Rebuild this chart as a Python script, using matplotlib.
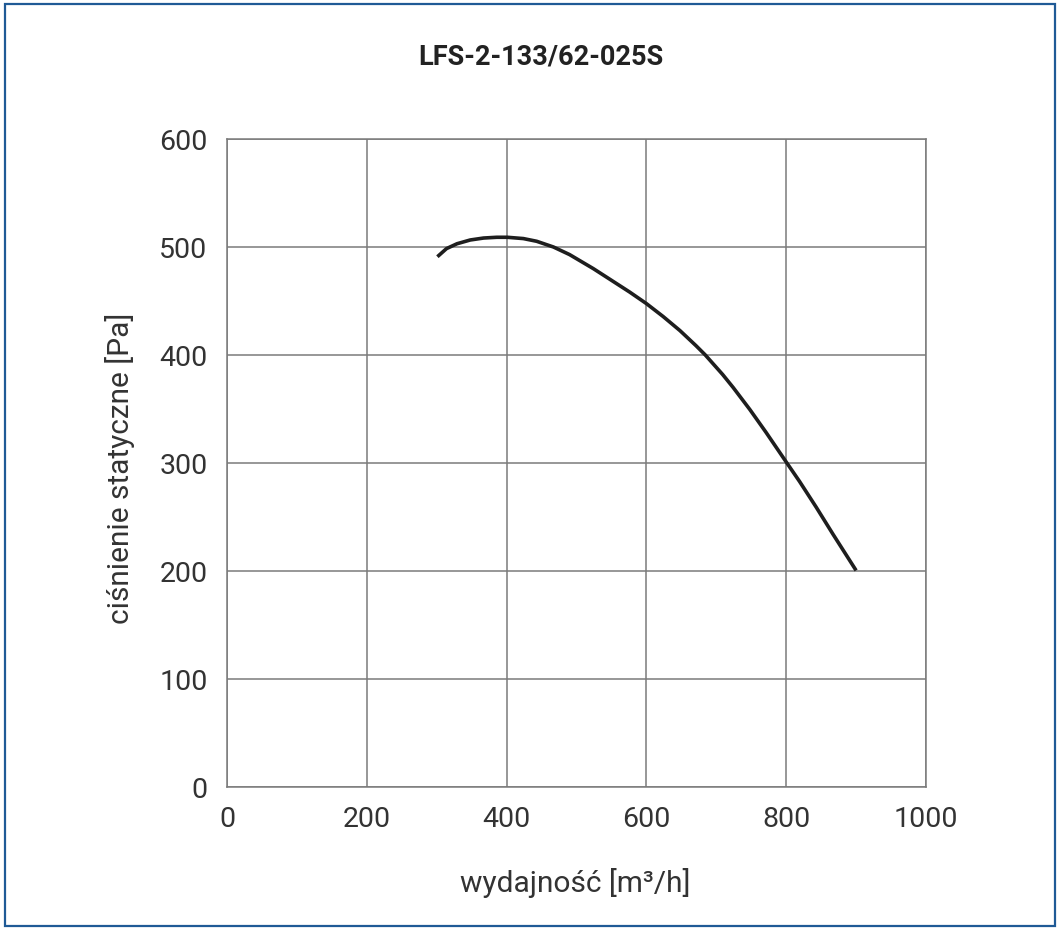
import matplotlib
matplotlib.use('Agg')
import matplotlib.pyplot as plt
from matplotlib.patches import Rectangle

# fan curve
flow = [301, 314, 329, 348, 367, 386, 401, 424, 443, 467, 490, 524, 548, 576,
        600, 624, 648, 671, 684, 709, 724, 748, 771, 801, 819, 843, 867, 900]
pressure = [491, 498.5, 503, 506.5, 508.3, 509, 509, 507.8, 505.3, 500, 493, 480, 470, 458.3,
            447.6, 435.6, 422.6, 408.6, 400.2, 382, 370, 349.5, 328.5, 300, 283, 259, 234, 200.5]

x_ticks = [0, 200, 400, 600, 800, 1000]
y_ticks = [0, 100, 200, 300, 400, 500, 600]

title = 'LFS-2-133/62-025S'
x_label = 'wydajność [m³/h]'
y_label = 'ciśnienie statyczne [Pa]'

plt.rcParams['font.family'] = ['Roboto', 'DejaVu Sans']
grid_color = '#7a7a7a'
text_color = '#333333'

fig = plt.figure(figsize=(10.6, 9.3), dpi=100)
ax = fig.add_axes([227 / 1060, 1 - 787 / 930, 699 / 1060, 648 / 930])

ax.plot(flow, pressure, color='#1e1e1e', linewidth=2.6,
        solid_capstyle='butt', solid_joinstyle='round')

ax.set_xlim(0, 1000)
ax.set_ylim(0, 600)
ax.set_xticks(x_ticks)
ax.set_yticks(y_ticks)
ax.grid(True, color=grid_color, linewidth=1.1)
ax.set_axisbelow(True)
for s in ax.spines.values():
    s.set_color(grid_color)
    s.set_linewidth(1.1)
ax.tick_params(length=0, labelsize=20.5, labelcolor=text_color, pad=14)

fig.text(541 / 1060, 1 - 57 / 930, title, ha='center', va='center',
         fontsize=19.5, fontweight='bold', color='#222222')
fig.text(575 / 1060, 1 - 883 / 930, x_label, ha='center', va='center',
         fontsize=21.5, color=text_color)
fig.text(120 / 1060, 1 - 468 / 930, y_label, ha='center', va='center',
         rotation=90, fontsize=21.5, color=text_color)

# blue frame around the whole figure
fig.patches.append(Rectangle((5 / 1060, 1 - 926 / 930), 1050 / 1060, 922 / 930,
                             transform=fig.transFigure, fill=False,
                             edgecolor='#1f5a96', linewidth=1.6))

fig.savefig('out.png', dpi=100)
